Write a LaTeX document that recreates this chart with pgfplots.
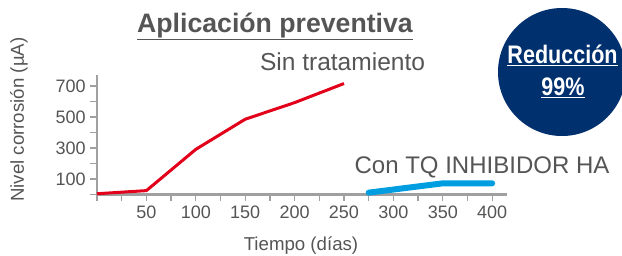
\documentclass[border=0pt]{standalone}
\usepackage{pgfplots}
\pgfplotsset{compat=1.18}
\usepackage{fontspec}
\setmainfont{Liberation Sans}
\newfontfamily\condbold[FakeStretch=0.85]{Liberation Sans Bold}
\definecolor{txtgray}{HTML}{555555}
\definecolor{axgray}{HTML}{A0A0A0}
\definecolor{cred}{HTML}{E2001A}
\definecolor{cblue}{HTML}{009EE0}
\definecolor{navy}{HTML}{00306E}
\begin{document}
\begin{tikzpicture}
\path[use as bounding box] (0,0) rectangle (466.5pt,191.25pt);
\begin{axis}[
  at={(72.75pt,45.375pt)}, anchor=south west,
  scale only axis, width=307.5pt, height=89.625pt,
  xmin=0, xmax=415, ymin=0, ymax=770,
  axis lines*=left, axis line style={-, draw=axgray, line width=1.8pt},
  tick align=outside, xtick pos=bottom, ytick pos=left,
  xtick={50,100,...,400}, minor xtick={0,25,75,125,175,225,275,325,375},
  ytick={100,300,500,700}, minor ytick={0,200,400,600},
  major tick length=5pt, minor tick length=5pt,
  every tick/.style={draw=axgray, line width=1pt},
  /pgf/number format/assume math mode=true,
  ticklabel style={font=\fontsize{13.5}{14}\selectfont, text=txtgray},
  clip=false,
]
\addplot[cred, line width=2.25pt, line join=round] coordinates {(0,5) (50,25) (100,291) (150,485) (200,592) (250,715)};
\addplot[cblue, line width=4.5pt, line cap=round, line join=round] coordinates {(275,12) (350,72) (400,72)};
\end{axis}
\node[anchor=base, text=txtgray, font=\fontsize{20}{22}\selectfont\bfseries] at (206.25pt,167.25pt) {\underline{Aplicación preventiva}};
\node[anchor=base, text=txtgray, font=\fontsize{18.4}{20}\selectfont] at (256.9pt,138.4pt) {Sin tratamiento};
\node[anchor=base, text=txtgray, font=\fontsize{18}{20}\selectfont] at (361.5pt,61.5pt) {Con TQ INHIBIDOR HA};
\fill[navy] (421.5pt,137.25pt) circle (48pt);
\node[anchor=base, text=white, font=\fontsize{19}{20}\condbold, inner sep=0pt] at (421.9pt,144pt) {\underline{Reducción}};
\node[anchor=base, text=white, font=\fontsize{19}{20}\condbold, inner sep=0pt] at (422.25pt,120pt) {\underline{99\%}};
\node[anchor=base, text=txtgray, font=\fontsize{14}{16}\selectfont] at (225.75pt,3.75pt) {Tiempo (días)};
\node[anchor=base, rotate=90, text=txtgray, font=\fontsize{14}{16}\selectfont] at (18pt,101.5pt) {Nivel corrosión (µA)};
\end{tikzpicture}
\end{document}
